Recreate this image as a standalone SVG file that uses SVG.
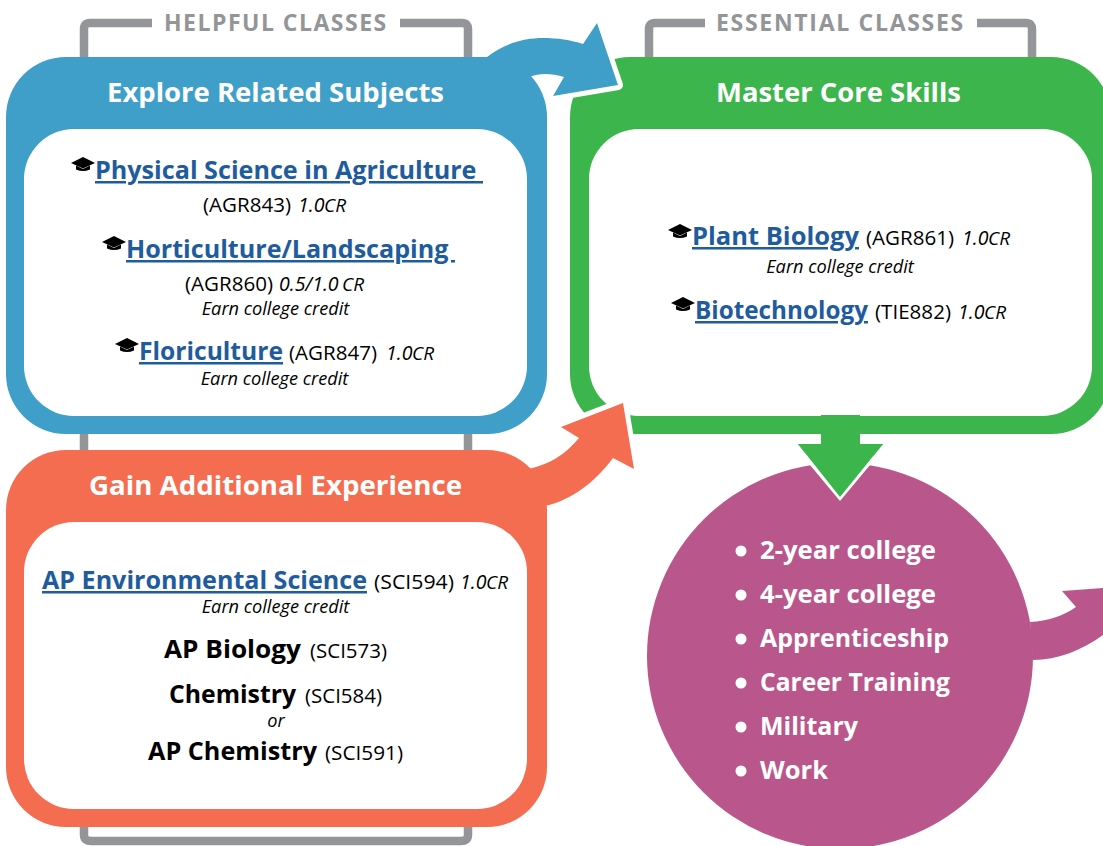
<svg xmlns="http://www.w3.org/2000/svg" width="1103" height="846" viewBox="0 0 1103 846">
<style>
text{font-family:"Open Sans","Noto Sans","Liberation Sans",sans-serif;fill:#000}
.t{font-size:27px;font-weight:700;fill:#fff;text-anchor:middle}
.h{font-size:23px;font-weight:700;fill:#939598;letter-spacing:1.8px}
.l{font-size:25px;font-weight:700;fill:#1f5c9e;text-decoration:underline}
.c{font-size:19.500px}
.b{font-size:25px;font-weight:700}
.i{font-style:italic}
.e{font-size:18.200px;font-style:italic;text-anchor:middle}
.s{font-size:19px;font-style:italic;font-weight:500}
.w{font-size:25px;font-weight:700;fill:#fff}
.g{fill:none;stroke:#939598;stroke-width:8.5}
.bl{fill:#3f9fc8}.gr{fill:#3cb64c}.or{fill:#f56d50}.pu{fill:#b9578c}
.halo{stroke:#fff;stroke-width:10;stroke-linejoin:round}
</style>
<defs>
<symbol id="cap" viewBox="0 0 24 15" overflow="visible">
<path d="M12 0 24 6 12 11.500 0 6Z"/>
<path d="M5 8.500 12 12 19 8.500V12.500Q12 15.500 5 12.500Z"/>
</symbol>
</defs>
<g id="brackets">
<path class="g" d="M152 23H90Q84 23 84 29V60M400 23H462Q468 23 468 29V60"/>
<path class="g" d="M705 23H655Q649 23 649 29V60M977 23H1026Q1032 23 1032 29V60"/>
<path class="g" d="M84 430V452M468 430V452"/>
<path class="g" d="M84 825V835Q84 841 91 841H461Q468 841 468 835V825"/>
<text class="h" x="164" y="31" textLength="224">HELPFUL CLASSES</text>
<text class="h" x="716" y="31" textLength="249">ESSENTIAL CLASSES</text>
</g>
<g id="master-core-skills">
<path class="gr" d="M630 57H1051A60 60 0 0 1 1111 117V374A60 60 0 0 1 1051 434H630A60 60 0 0 1 570 374V117A60 60 0 0 1 630 57Z"/>
<rect x="589" y="129" width="503" height="287" rx="50" fill="#fff"/>
<text class="t" x="838.500" y="102" textLength="245" lengthAdjust="spacingAndGlyphs">Master Core Skills</text>
<use href="#cap" x="668" y="224" width="24" height="15"/>
<text y="245"><tspan class="l" x="692" textLength="167" lengthAdjust="spacingAndGlyphs">Plant Biology</tspan><tspan class="c" x="866" textLength="88" lengthAdjust="spacingAndGlyphs">(AGR861)</tspan><tspan class="c i" x="962">1.0</tspan><tspan class="s" x="988">CR</tspan></text>
<text class="e" x="840" y="273">Earn college credit</text>
<use href="#cap" x="671" y="297" width="24" height="15"/>
<text y="319"><tspan class="l" x="695" textLength="173" lengthAdjust="spacingAndGlyphs">Biotechnology</tspan><tspan class="c" x="875" textLength="76" lengthAdjust="spacingAndGlyphs">(TIE882)</tspan><tspan class="c i" x="958">1.0</tspan><tspan class="s" x="984">CR</tspan></text>
</g>
<g id="connectors">
<path class="gr" d="M821 415H860V444H883L840 497 798 444H821Z"/>
<path class="bl halo" d="M583 44 597 23 618 85 553 96 564 77Z"/>
<path class="or halo" d="M561 427 623 403 634 469 613 458 579 438Z"/>
</g>
<g id="careers">
<circle class="pu" cx="840" cy="656" r="193"/>
<path fill="#fff" d="M810 465 840 501 870 465 880 440H800Z"/>
<path class="gr" d="M821 415H860V444H883L840 497 798 444H821Z"/>
<path class="pu" d="M1030 622C1048 621 1063 616 1076 607L1062 591 1103 588V635C1082 650 1058 660 1033 660Z"/>
<circle cx="741" cy="551" r="5.500" fill="#fff"/><text class="w" x="760" y="559" textLength="176" lengthAdjust="spacingAndGlyphs">2-year college</text>
<circle cx="741" cy="595" r="5.500" fill="#fff"/><text class="w" x="760" y="603" textLength="176" lengthAdjust="spacingAndGlyphs">4-year college</text>
<circle cx="741" cy="639" r="5.500" fill="#fff"/><text class="w" x="760" y="647" textLength="189" lengthAdjust="spacingAndGlyphs">Apprenticeship</text>
<circle cx="741" cy="683" r="5.500" fill="#fff"/><text class="w" x="760" y="691" textLength="190" lengthAdjust="spacingAndGlyphs">Career Training</text>
<circle cx="741" cy="727" r="5.500" fill="#fff"/><text class="w" x="760" y="735" textLength="98" lengthAdjust="spacingAndGlyphs">Military</text>
<circle cx="741" cy="771" r="5.500" fill="#fff"/><text class="w" x="760" y="779" textLength="68" lengthAdjust="spacingAndGlyphs">Work</text>
</g>
<g id="related-subjects">
<path class="bl" d="M487 57C505 43 525 38 543 38 557 38 571 40 583 44L597 23 618 85 553 96 564 77C558 75 551 74 545 74 540 74 534 75 529 77 540 95 547 110 547 117H400V57Z"/>
<rect x="6" y="57" width="541" height="377" rx="60" class="bl"/>
<rect x="24" y="129" width="503" height="287" rx="50" fill="#fff"/>
<text class="t" x="275.500" y="102" textLength="337" lengthAdjust="spacingAndGlyphs">Explore Related Subjects</text>
<use href="#cap" x="71" y="157" width="24" height="15"/>
<text class="l" x="95" y="179" textLength="388" lengthAdjust="spacingAndGlyphs">Physical Science in Agriculture&#160;</text>
<text y="212"><tspan class="c" x="203" textLength="88" lengthAdjust="spacingAndGlyphs">(AGR843)</tspan><tspan class="c i" x="298">1.0</tspan><tspan class="s" x="324">CR</tspan></text>
<use href="#cap" x="102" y="236" width="24" height="15"/>
<text class="l" x="126" y="258" textLength="329" lengthAdjust="spacingAndGlyphs">Horticulture/Landscaping&#160;</text>
<text y="291"><tspan class="c" x="185" textLength="88" lengthAdjust="spacingAndGlyphs">(AGR860)</tspan><tspan class="c i" x="279">0.5/1.0</tspan><tspan class="s" x="342">CR</tspan></text>
<text class="e" x="275.500" y="315">Earn college credit</text>
<use href="#cap" x="115" y="338" width="24" height="15"/>
<text y="360"><tspan class="l" x="139" textLength="144" lengthAdjust="spacingAndGlyphs">Floriculture</tspan><tspan class="c" x="289" textLength="88" lengthAdjust="spacingAndGlyphs">(AGR847)</tspan><tspan class="c i" x="386">1.0</tspan><tspan class="s" x="412">CR</tspan></text>
<text class="e" x="274.500" y="385">Earn college credit</text>
</g>
<g id="additional-experience">
<path class="or" d="M528 469C548 465 565 455 579 438L561 427 623 403 634 469 613 458C595 482 572 500 545 506L547 560H400V460Z"/>
<rect x="6" y="450" width="541" height="377" rx="60" class="or"/>
<rect x="24" y="522" width="503" height="287" rx="50" fill="#fff"/>
<text class="t" x="275.500" y="495" textLength="373" lengthAdjust="spacingAndGlyphs">Gain Additional Experience</text>
<text y="589"><tspan class="l" x="42" textLength="325" lengthAdjust="spacingAndGlyphs">AP Environmental Science</tspan><tspan class="c" x="374" textLength="80" lengthAdjust="spacingAndGlyphs">(SCI594)</tspan><tspan class="c i" x="460">1.0</tspan><tspan class="s" x="486">CR</tspan></text>
<text class="e" x="275.500" y="613">Earn college credit</text>
<text y="658"><tspan class="b" x="164" textLength="137" lengthAdjust="spacingAndGlyphs">AP Biology</tspan><tspan class="c" x="310" textLength="77" lengthAdjust="spacingAndGlyphs">(SCI573)</tspan></text>
<text y="703"><tspan class="b" x="169" textLength="127" lengthAdjust="spacingAndGlyphs">Chemistry</tspan><tspan class="c" x="305" textLength="77" lengthAdjust="spacingAndGlyphs">(SCI584)</tspan></text>
<text class="e" x="276" y="727">or</text>
<text y="760"><tspan class="b" x="148" textLength="169" lengthAdjust="spacingAndGlyphs">AP Chemistry</tspan><tspan class="c" x="325" textLength="78" lengthAdjust="spacingAndGlyphs">(SCI591)</tspan></text>
</g>
</svg>
